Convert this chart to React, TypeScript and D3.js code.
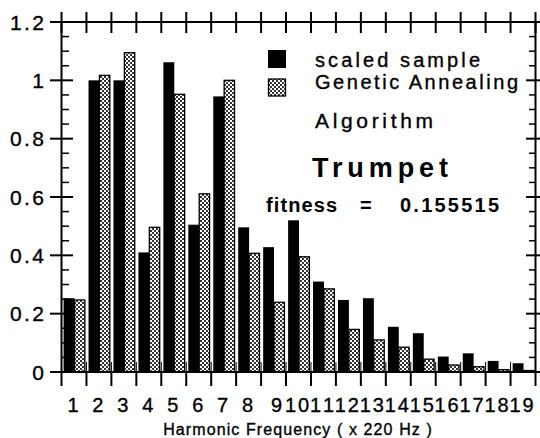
import React from "react";
import * as d3 from "d3";

const categories = ["1","2","3","4","5","6","7","8","9","10","11","12","13","14","15","16","17","18","19"];
const scaledSample = [0.253, 1.0, 1.0, 0.41, 1.062, 0.505, 0.945, 0.496, 0.428, 0.52, 0.31, 0.247, 0.253, 0.155, 0.133, 0.053, 0.064, 0.038, 0.03];
const geneticAnnealing = [0.247, 1.017, 1.095, 0.496, 0.952, 0.611, 1.0, 0.407, 0.239, 0.395, 0.285, 0.146, 0.11, 0.085, 0.044, 0.024, 0.018, 0.008, 0.005];
const yMajorTicks = [0, 0.2, 0.4, 0.6, 0.8, 1, 1.2];
const yTickLabels = ["0", "0.2", "0.4", "0.6", "0.8", "1", "1.2"];
const seriesKeys = ["sample", "ga"];
const legendLabels = ["scaled sample", "Genetic Annealing", "Algorithm"];
const titleText = "Trumpet";
const fitnessLabel = "fitness";
const fitnessValue = "0.155515";
const xTitle = "Harmonic Frequency ( x 220 Hz )";

const W = 540, H = 438;
const L = 61.5, R = 535.5, T = 22, B = 372;
const FONT = "'Liberation Sans', Arial, Helvetica, sans-serif";
const INK = { stroke: "#000", strokeWidth: 0.35 } as const;

export default function App() {
  const x = d3.scaleBand<string>().domain(categories).range([L, R]).paddingInner(0).paddingOuter(0);
  const xs = d3.scaleBand<string>().domain(seriesKeys).range([1, x.bandwidth()]).paddingInner(0).paddingOuter(0.1);
  const y = d3.scaleLinear().domain([0, 1.2]).range([B, T]);
  const minor = d3.range(0, 1.2001, 0.05).filter((v) => Math.abs(v * 5 - Math.round(v * 5)) > 1e-6);
  const bounds = d3.range(0, categories.length + 1).map((i) => L + i * x.step());

  return (
    <svg width={W} height={H} style={{ position: "absolute", left: 0, top: 0, background: "#fff" }} fontFamily={FONT}>
      <defs>
        <pattern id="dots" width="4" height="4" patternUnits="userSpaceOnUse">
          <rect width="4" height="4" fill="#fff" />
          <rect x="0" y="0" width="2" height="2" fill="#333" />
          <rect x="2" y="2" width="2" height="2" fill="#333" />
        </pattern>
      </defs>
      <rect width={W} height={H} fill="#fff" />

      {/* bars */}
      {categories.map((c, i) => (
        <g key={c}>
          <rect x={x(c)! + xs("sample")!} y={y(scaledSample[i])} width={xs.bandwidth()} height={B - y(scaledSample[i])} fill="#000" />
          <rect x={x(c)! + xs("ga")!} y={y(geneticAnnealing[i])} width={xs.bandwidth() - 0.5} height={B - y(geneticAnnealing[i])} fill="url(#dots)" stroke="#000" strokeWidth={1.3} />
        </g>
      ))}

      {/* frame */}
      <line x1={L} x2={L} y1={T} y2={B} stroke="#000" strokeWidth={2} />
      <line x1={R} x2={R} y1={T} y2={B} stroke="#000" strokeWidth={2} />
      <line x1={52} x2={540} y1={T} y2={T} stroke="#000" strokeWidth={2} />
      <line x1={50} x2={R + 1} y1={B} y2={B} stroke="#000" strokeWidth={2} />

      {/* y ticks */}
      {yMajorTicks.map((v, i) => {
        const lab = yTickLabels[i];
        return (
          <g key={"ym" + i}>
            <line x1={50} x2={73} y1={y(v)} y2={y(v)} stroke="#000" strokeWidth={2} />
            <line x1={526} x2={540} y1={y(v)} y2={y(v)} stroke="#000" strokeWidth={2} />
            <text x={44} y={y(v)} dy="0.36em" textAnchor="end" fontSize={21} {...INK}
              {...(lab.length > 1 ? { textLength: 34, lengthAdjust: "spacing" } : {})}>{lab}</text>
          </g>
        );
      })}
      {minor.map((v, i) => (
        <g key={"yn" + i}>
          <line x1={L} x2={69} y1={y(v)} y2={y(v)} stroke="#000" strokeWidth={1.5} />
          <line x1={529} x2={R} y1={y(v)} y2={y(v)} stroke="#000" strokeWidth={1.5} />
        </g>
      ))}

      {/* x ticks */}
      {bounds.map((bx, i) => (
        <g key={"xb" + i}>
          <line x1={bx} x2={bx} y1={12} y2={33} stroke="#000" strokeWidth={2} />
          <line x1={bx} x2={bx} y1={B} y2={386} stroke="#000" strokeWidth={2} />
          <line x1={bx} x2={bx} y1={362} y2={B} stroke="#000" strokeWidth={1} />
        </g>
      ))}

      {/* x labels */}
      {categories.map((c) => {
        const cx = x(c)! + x.bandwidth() / 2;
        if (c.length === 1) {
          return <text key={"xl" + c} x={cx + (c === "9" ? 3 : -1)} y={412} textAnchor="middle" fontSize={20} {...INK}>{c}</text>;
        }
        return (
          <text key={"xl" + c} y={412} textAnchor="middle" fontSize={20} {...INK}>
            <tspan x={cx - 8}>{c[0]}</tspan>
            <tspan x={cx + 5}>{c[1]}</tspan>
          </text>
        );
      })}
      <text x={298} y={435} textAnchor="middle" fontSize={16} letterSpacing={1.1} {...INK}>{xTitle}</text>

      {/* legend */}
      <rect x={268} y={50} width={18} height={18} fill="#000" />
      <rect x={268.5} y={79} width={17} height={17} fill="url(#dots)" stroke="#000" strokeWidth={1.3} />
      <text x={315} y={66.5} fontSize={20} textLength={165} lengthAdjust="spacing" {...INK}>{legendLabels[0]}</text>
      <text x={315} y={89} fontSize={20} textLength={203} lengthAdjust="spacing" {...INK}>{legendLabels[1]}</text>
      <text x={315} y={128} fontSize={21} textLength={118} lengthAdjust="spacing" {...INK}>{legendLabels[2]}</text>
      <text x={312} y={177} fontSize={27} fontWeight="bold" textLength={136} lengthAdjust="spacing">{titleText}</text>
      <text x={266} y={212} fontSize={20} fontWeight="bold" textLength={71} lengthAdjust="spacing">{fitnessLabel}</text>
      <text x={360} y={212} fontSize={20} fontWeight="bold">=</text>
      <text x={400} y={212} fontSize={20} fontWeight="bold" textLength={99} lengthAdjust="spacing">{fitnessValue}</text>
    </svg>
  );
}
